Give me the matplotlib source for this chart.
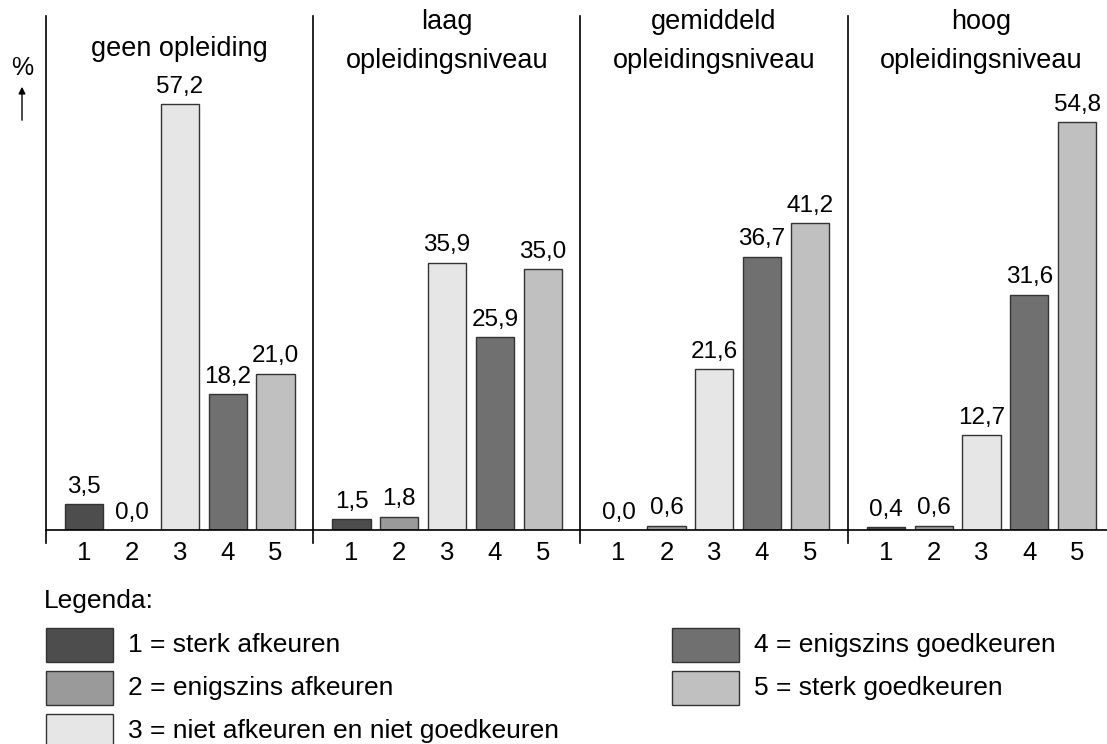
import matplotlib.pyplot as plt
from matplotlib.patches import Rectangle

plt.rcParams['font.family'] = ['Liberation Sans', 'DejaVu Sans']

groups = [['geen opleiding'], ['laag', 'opleidingsniveau'],
          ['gemiddeld', 'opleidingsniveau'], ['hoog', 'opleidingsniveau']]
categories = ['1', '2', '3', '4', '5']
values = [
    [3.5, 0.0, 57.2, 18.2, 21.0],
    [1.5, 1.8, 35.9, 25.9, 35.0],
    [0.0, 0.6, 21.6, 36.7, 41.2],
    [0.4, 0.6, 12.7, 31.6, 54.8],
]
legend_labels = ['1 = sterk afkeuren', '2 = enigszins afkeuren',
                 '3 = niet afkeuren en niet goedkeuren',
                 '4 = enigszins goedkeuren', '5 = sterk goedkeuren']
colors = ['#4d4d4d', '#9a9a9a', '#e6e6e6', '#707070', '#c0c0c0']
edge = '#333333'

W, H = 1107, 744
fig = plt.figure(figsize=(W / 100, H / 100), dpi=100)
ax = fig.add_axes([46 / W, (H - 530) / H, 1061 / W, (530 - 16) / H])

group_w = 5.59
bar_w = 0.8
ticks, ticklabels = [], []
for g, vals in enumerate(values):
    x0 = g * group_w
    xs = [x0 + 0.8 + k for k in range(len(vals))]
    ax.bar(xs, vals, width=bar_w, color=colors, edgecolor=edge, linewidth=1.0)
    for x, v in zip(xs, vals):
        ax.annotate(f'{v:.1f}'.replace('.', ','), (x, v), xytext=(0, 4.5),
                    textcoords='offset points', ha='center', va='bottom',
                    fontsize=17.5)
    ticks += xs
    ticklabels += categories
    # group separator
    ax.plot([x0, x0], [-1.8, 69], color='black', lw=1.2, clip_on=False)
    # titles
    cx = x0 + group_w / 2
    if len(groups[g]) == 1:
        ax.text(cx, 64.6, groups[g][0], ha='center', va='center', fontsize=19.5)
    else:
        ax.text(cx, 68.2, groups[g][0], ha='center', va='center', fontsize=19.5)
        ax.text(cx, 63.0, groups[g][1], ha='center', va='center', fontsize=19.5)

ax.set_xlim(0, 1061 / 47.8)
ax.set_ylim(0, 69)
ax.set_xticks(ticks)
ax.set_xticklabels(ticklabels, fontsize=18.5)
ax.tick_params(axis='x', length=0, pad=8)
ax.set_yticks([])
for s in ['top', 'right', 'left']:
    ax.spines[s].set_visible(False)
ax.spines['bottom'].set_linewidth(1.2)

# overlay in pixel coordinates for % arrow and legend
ov = fig.add_axes([0, 0, 1, 1])
ov.set_xlim(0, W)
ov.set_ylim(H, 0)
ov.axis('off')
ov.text(22, 68, '%', ha='center', va='center', fontsize=18)
ov.annotate('', xy=(22, 84), xytext=(22, 123),
            arrowprops=dict(arrowstyle='-|>', color='black', lw=1.0,
                            mutation_scale=10))

ov.text(44, 601, 'Legenda:', ha='left', va='center', fontsize=19)
rows = [(46, 645), (46, 688), (46, 731), (672, 645), (672, 688)]
for (x, y), c, lab in zip(rows, colors, legend_labels):
    ov.add_patch(Rectangle((x, y - 17), 67, 34, facecolor=c, edgecolor=edge,
                           lw=1.0))
    ov.text(x + 82, y, lab, ha='left', va='center', fontsize=19)

fig.savefig('out.png', dpi=100)
